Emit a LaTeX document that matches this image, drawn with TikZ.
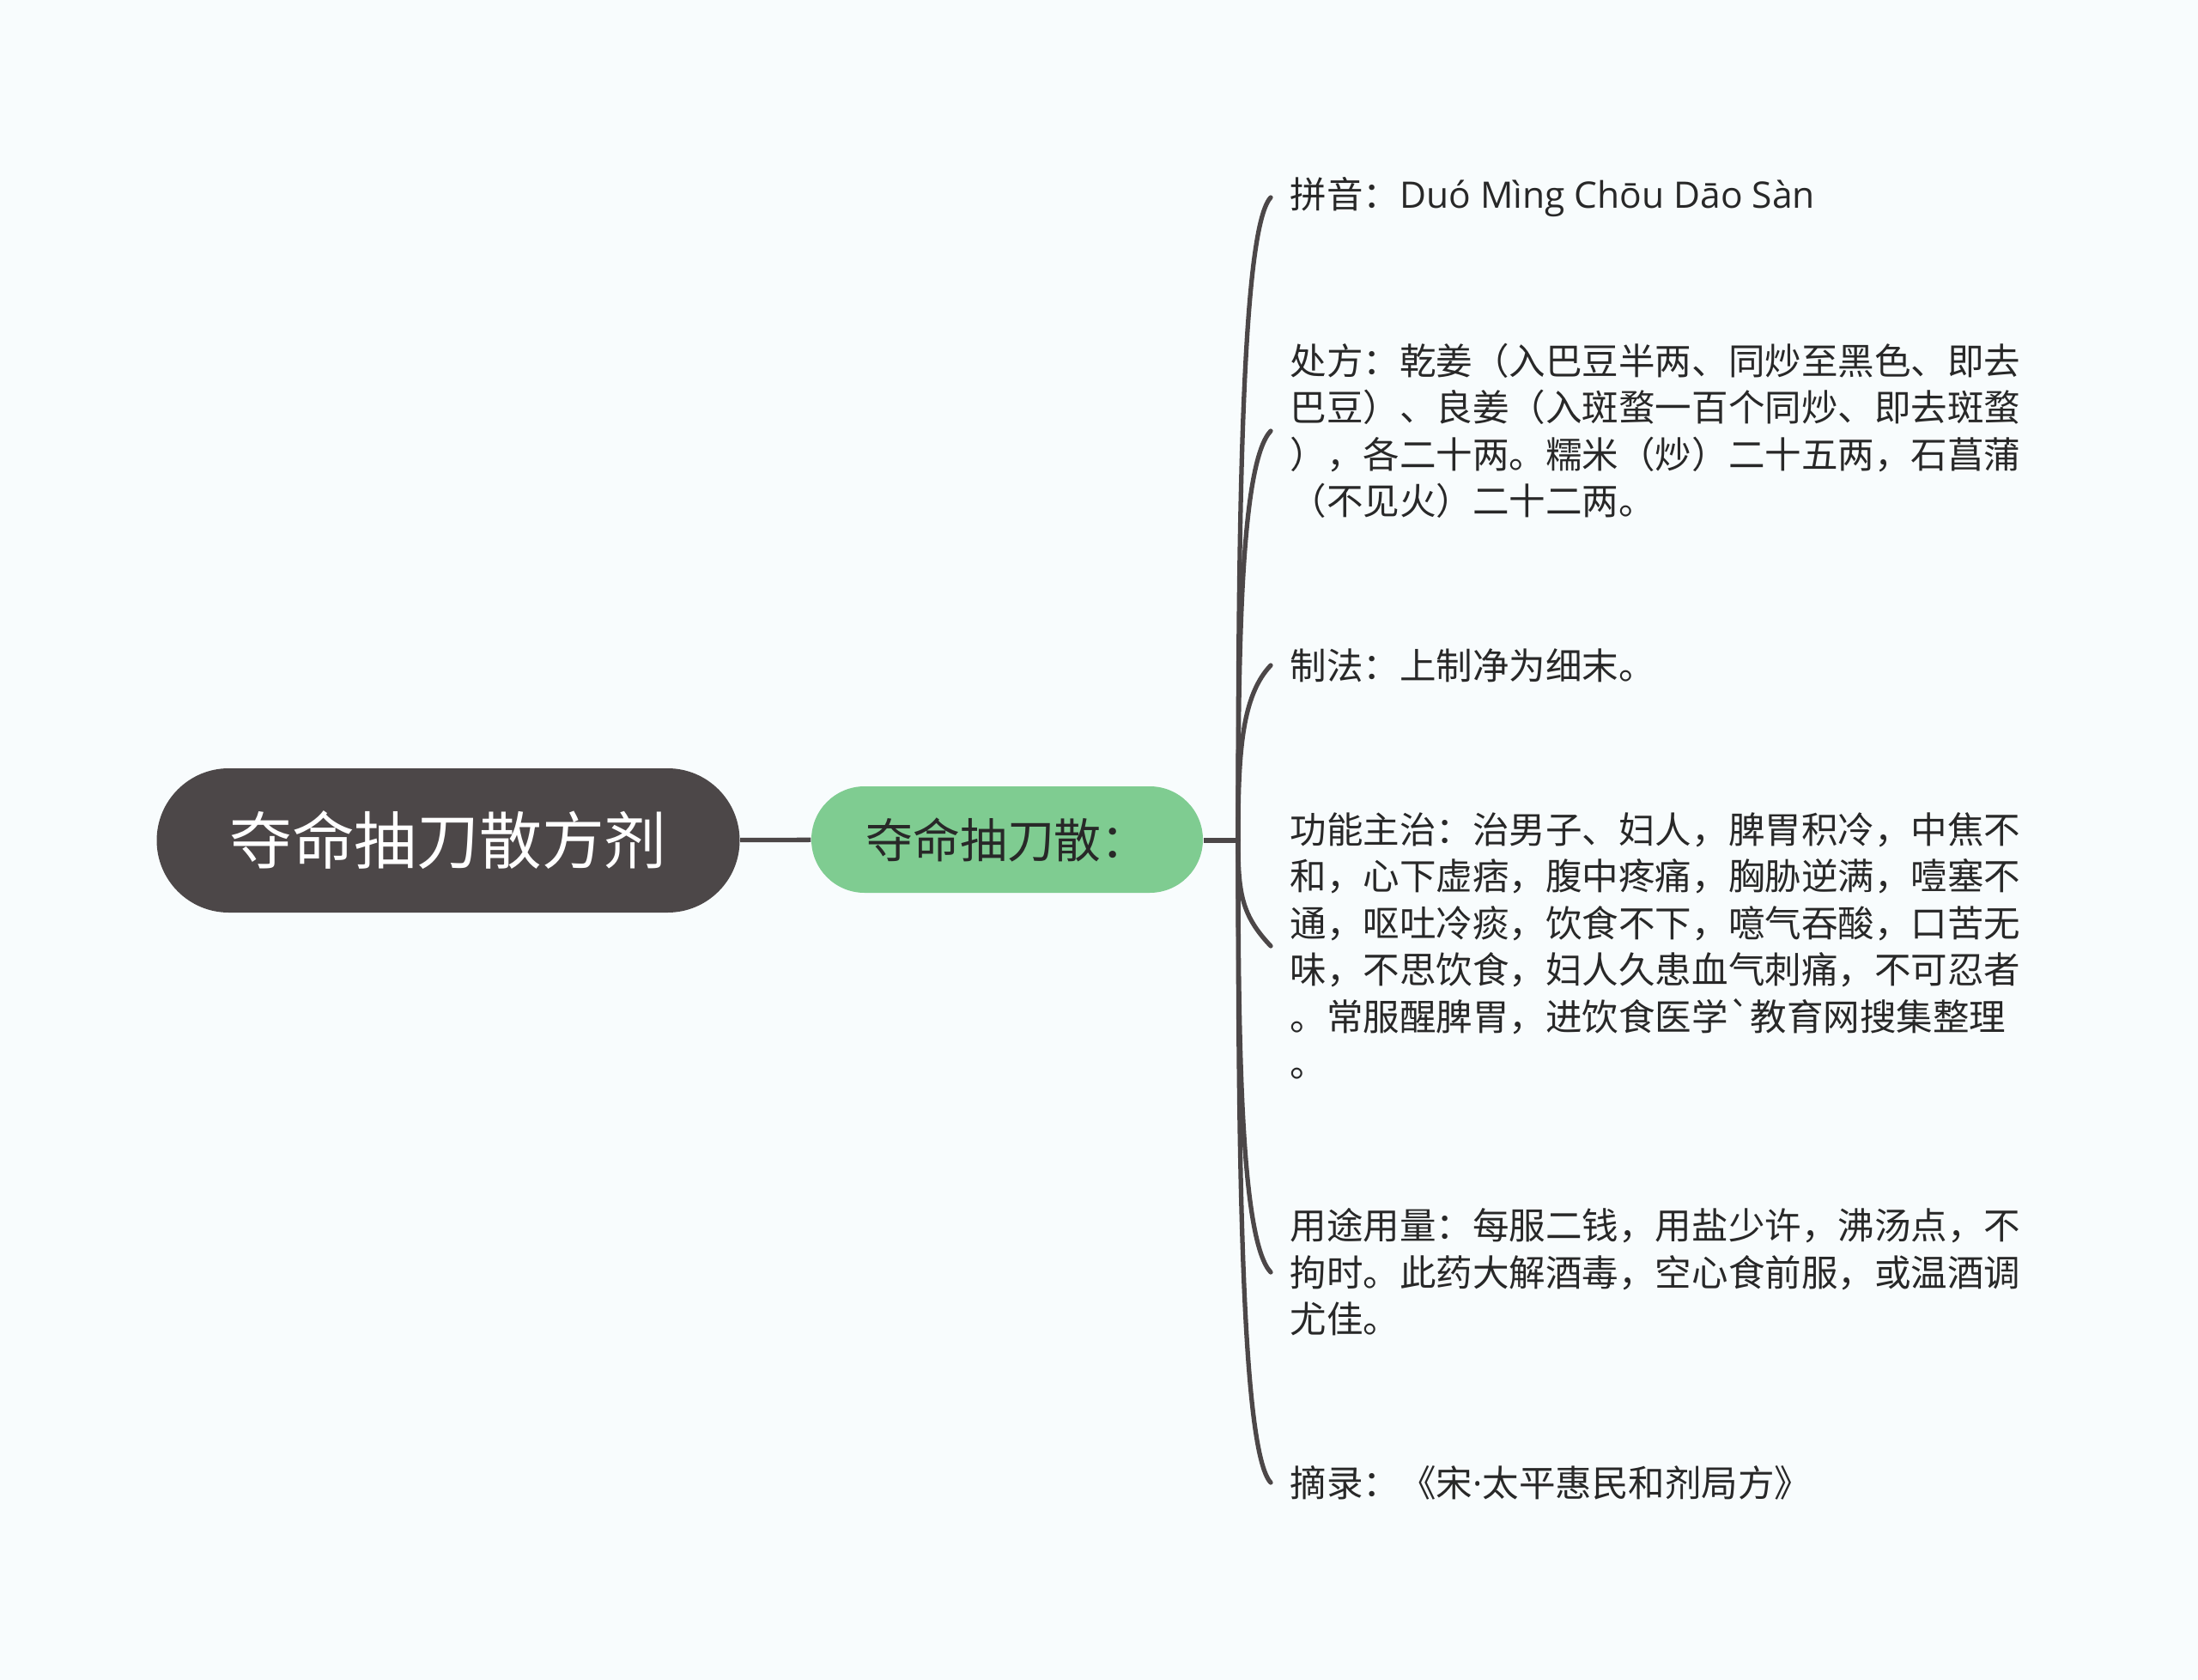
\documentclass[tikz,border=0pt]{standalone}
\usepackage{fontspec}
\setmainfont{Noto Sans CJK SC}[Ligatures=TeXOff]
\newfontfamily\latinfont{Open Sans}
\usepackage{xcolor}
\usepackage{tikz}
\usetikzlibrary{positioning,calc}

\definecolor{bgcol}{RGB}{248,252,253}
\definecolor{rootcol}{RGB}{76,71,72}
\definecolor{subcol}{RGB}{127,204,145}
\definecolor{linecol}{RGB}{76,71,72}
\definecolor{txtcol}{RGB}{40,40,40}

\begin{document}
\begin{tikzpicture}[
	rootbox/.style={fill=rootcol, rounded corners=0.84cm, minimum width=6.79cm, minimum height=1.68cm, inner sep=0pt, text=white, font=\fontsize{20.7pt}{24pt}\selectfont},
	subbox/.style={fill=subcol, rounded corners=0.62cm, minimum width=4.56cm, minimum height=1.24cm, inner sep=0pt, text=txtcol, font=\fontsize{15.6pt}{18pt}\selectfont},
	leaf/.style={anchor=west, align=left, inner sep=0pt, text=txtcol, font=\fontsize{12.1pt}{15.5pt}\selectfont},
	link/.style={draw=linecol, line width=1.5pt},
	branch/.style={draw=linecol, line width=1.5pt, line cap=round}
	]
				\fill [bgcol] (0,0) rectangle (25.6,-19.57);
				\useasboundingbox (0,0) rectangle (25.6,-19.57);
				
				\node [rootbox] (root) at (5.22,-9.79) {夺命抽刀散方剂};
				\node [subbox] (sub) at (11.73,-9.78) {夺命抽刀散：};
				\coordinate (junc) at (14.42,-9.79);
				
				\draw [link] (root) -- (sub);
				\draw [link] (sub.east |- junc) -- (junc);
				
				% % % % % % % % % % % % % % % % % % % % % % % % % %
				
				\coordinate (e1) at (14.80,-2.30);
				\coordinate (e2) at (14.80,-5.02);
				\coordinate (e3) at (14.80,-7.75);
				\coordinate (e4) at (14.80,-11.02);
				\coordinate (e5) at (14.80,-14.82);
				\coordinate (e6) at (14.80,-17.27);
				
				\foreach \n/\s in {1/-1,2/-1,3/-1,4/1,5/1,6/1}
					\draw [branch] (junc) .. controls ($(junc)!0.5!(junc |- e\n)$) and ($(junc |- e\n)+(0.04,0.36*\s)$) .. (e\n);
				
				\node [leaf] (pinyin) at (15.02,-2.30) {拼音：{\latinfont Duó Mìng Chōu Dāo Sàn}};
				\node [leaf] (recipe) at (15.02,-5.02) {处方：乾姜（入巴豆半两、同炒至黑色、即去\\巴豆）、良姜（入斑蝥一百个同炒、即去斑蝥\\），各二十两。糯米（炒）二十五两，石菖蒲\\（不见火）二十二两。};
				\node [leaf] (making) at (15.02,-7.75) {制法：上制净为细末。};
				\node [leaf] (effect) at (15.02,-11.02) {功能主治：治男子、妇人，脾胃积冷，中焦不\\和，心下虚痞，腹中疼痛，胸胁逆满，噎塞不\\通，呕吐冷痰，饮食不下，噫气吞酸，口苦无\\味，不思饮食，妇人久患血气刺痛，不可忍者\\。常服醒脾胃，进饮食医学`教育网搜集整理\\。};
				\node [leaf] (usage) at (15.02,-14.82) {用途用量：每服二钱，用盐少许，沸汤点，不\\拘时。此药大解酒毒，空心食前服，或温酒调\\尤佳。};
				\node [leaf] (source) at (15.02,-17.27) {摘录：《宋{\latinfont ·}太平惠民和剂局方》};
\end{tikzpicture}
\end{document}
